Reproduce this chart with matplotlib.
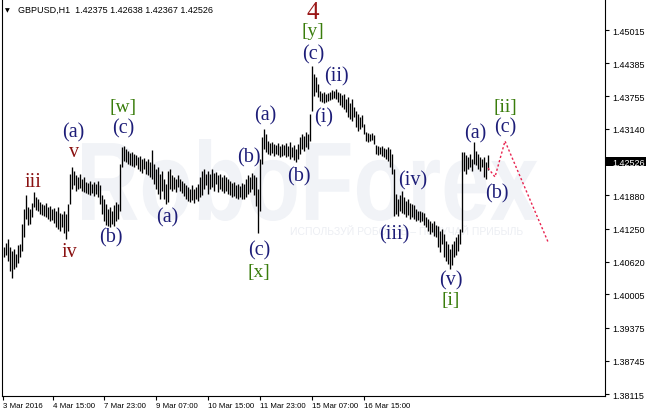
import numpy as np
import matplotlib
matplotlib.use("Agg")
import matplotlib.pyplot as plt
from matplotlib.textpath import TextPath
from matplotlib.patches import PathPatch, Rectangle
from matplotlib.font_manager import FontProperties
from matplotlib.transforms import Affine2D

# ---------------- data ----------------
symbol = "GBPUSD,H1"
last_ohlc = [1.42375, 1.42638, 1.42367, 1.42526]

highs = [
    1.4090, 1.4098, 1.4105, 1.4090, 1.4082, 1.4086, 1.4077, 1.4094, 1.4096, 1.4134,
    1.4162, 1.4189, 1.4166, 1.4162, 1.4174, 1.4194, 1.4185, 1.4181, 1.4175, 1.4172,
    1.4170, 1.4174, 1.4166, 1.4168, 1.4162, 1.4164, 1.4158, 1.4166, 1.4155, 1.4153,
    1.4158, 1.4153, 1.4172, 1.4229, 1.4242, 1.4234, 1.4227, 1.4223, 1.4229, 1.4219,
    1.4223, 1.4213, 1.4211, 1.4215, 1.4210, 1.4213, 1.4210, 1.4215, 1.4208, 1.4189,
    1.4181, 1.4172, 1.4162, 1.4166, 1.4158, 1.4170, 1.4175, 1.4172, 1.4247, 1.4280,
    1.4282, 1.4276, 1.4272, 1.4268, 1.4270, 1.4266, 1.4265, 1.4261, 1.4263, 1.4257,
    1.4259, 1.4253, 1.4257, 1.4251, 1.4274, 1.4247, 1.4238, 1.4242, 1.4229, 1.4234,
    1.4219, 1.4210, 1.4234, 1.4238, 1.4227, 1.4223, 1.4219, 1.4227, 1.4219, 1.4215,
    1.4211, 1.4208, 1.4204, 1.4200, 1.4208, 1.4200, 1.4204, 1.4210, 1.4223, 1.4234,
    1.4238, 1.4229, 1.4234, 1.4229, 1.4238, 1.4230, 1.4232, 1.4227, 1.4229, 1.4223,
    1.4227, 1.4223, 1.4219, 1.4215, 1.4211, 1.4213, 1.4208, 1.4210, 1.4206, 1.4211,
    1.4210, 1.4219, 1.4227, 1.4223, 1.4230, 1.4227, 1.4223, 1.4200, 1.4257, 1.4299,
    1.4314, 1.4304, 1.4291, 1.4287, 1.4289, 1.4285, 1.4284, 1.4287, 1.4282, 1.4285,
    1.4284, 1.4287, 1.4282, 1.4289, 1.4280, 1.4284, 1.4276, 1.4285, 1.4299, 1.4304,
    1.4300, 1.4308, 1.4304, 1.4342, 1.4433, 1.4418, 1.4412, 1.4399, 1.4386, 1.4382,
    1.4384, 1.4380, 1.4382, 1.4384, 1.4388, 1.4386, 1.4390, 1.4384, 1.4382, 1.4378,
    1.4380, 1.4371, 1.4375, 1.4363, 1.4371, 1.4356, 1.4348, 1.4342, 1.4337, 1.4340,
    1.4323, 1.4308, 1.4306, 1.4304, 1.4306, 1.4302, 1.4284, 1.4282, 1.4280, 1.4282,
    1.4278, 1.4276, 1.4280, 1.4276, 1.4266, 1.4238, 1.4191, 1.4181, 1.4189, 1.4196,
    1.4185, 1.4177, 1.4181, 1.4174, 1.4172, 1.4170, 1.4162, 1.4158, 1.4158, 1.4156,
    1.4155, 1.4147, 1.4143, 1.4139, 1.4136, 1.4139, 1.4132, 1.4130, 1.4120, 1.4124,
    1.4115, 1.4102, 1.4096, 1.4086, 1.4096, 1.4102, 1.4109, 1.4115, 1.4124, 1.4270,
    1.4270, 1.4265, 1.4261, 1.4266, 1.4257, 1.4289, 1.4272, 1.4266, 1.4261, 1.4257,
    1.4261, 1.4251, 1.42638,
]
lows = [
    1.4071, 1.4075, 1.4064, 1.4045, 1.4031, 1.4048, 1.4052, 1.4060, 1.4071, 1.4082,
    1.4109, 1.4143, 1.4132, 1.4134, 1.4147, 1.4166, 1.4160, 1.4158, 1.4153, 1.4151,
    1.4149, 1.4147, 1.4143, 1.4139, 1.4141, 1.4136, 1.4128, 1.4124, 1.4120, 1.4128,
    1.4117, 1.4105, 1.4120, 1.4172, 1.4200, 1.4208, 1.4196, 1.4200, 1.4202, 1.4196,
    1.4194, 1.4193, 1.4191, 1.4189, 1.4193, 1.4187, 1.4191, 1.4185, 1.4172, 1.4153,
    1.4139, 1.4132, 1.4130, 1.4128, 1.4134, 1.4130, 1.4139, 1.4143, 1.4158, 1.4242,
    1.4253, 1.4251, 1.4247, 1.4246, 1.4244, 1.4242, 1.4246, 1.4238, 1.4234, 1.4230,
    1.4238, 1.4229, 1.4227, 1.4223, 1.4219, 1.4210, 1.4200, 1.4191, 1.4181, 1.4196,
    1.4181, 1.4172, 1.4175, 1.4200, 1.4196, 1.4200, 1.4194, 1.4204, 1.4196, 1.4193,
    1.4187, 1.4181, 1.4177, 1.4175, 1.4179, 1.4174, 1.4181, 1.4177, 1.4185, 1.4189,
    1.4200, 1.4208, 1.4191, 1.4200, 1.4204, 1.4196, 1.4210, 1.4194, 1.4200, 1.4196,
    1.4193, 1.4196, 1.4191, 1.4189, 1.4185, 1.4187, 1.4183, 1.4181, 1.4185, 1.4181,
    1.4181, 1.4185, 1.4191, 1.4194, 1.4200, 1.4189, 1.4168, 1.4117, 1.4158, 1.4247,
    1.4276, 1.4270, 1.4266, 1.4265, 1.4268, 1.4263, 1.4266, 1.4265, 1.4261, 1.4263,
    1.4265, 1.4261, 1.4263, 1.4257, 1.4261, 1.4255, 1.4251, 1.4257, 1.4266, 1.4276,
    1.4272, 1.4280, 1.4276, 1.4291, 1.4348, 1.4376, 1.4384, 1.4375, 1.4367, 1.4365,
    1.4363, 1.4365, 1.4367, 1.4369, 1.4371, 1.4373, 1.4371, 1.4365, 1.4359, 1.4356,
    1.4352, 1.4346, 1.4337, 1.4333, 1.4329, 1.4337, 1.4318, 1.4310, 1.4314, 1.4318,
    1.4304, 1.4291, 1.4289, 1.4291, 1.4293, 1.4285, 1.4266, 1.4265, 1.4266, 1.4263,
    1.4261, 1.4257, 1.4253, 1.4242, 1.4229, 1.4149, 1.4153, 1.4149, 1.4158, 1.4155,
    1.4153, 1.4147, 1.4151, 1.4143, 1.4147, 1.4143, 1.4139, 1.4141, 1.4138, 1.4139,
    1.4132, 1.4128, 1.4120, 1.4115, 1.4119, 1.4111, 1.4109, 1.4090, 1.4081, 1.4096,
    1.4071, 1.4064, 1.4058, 1.4048, 1.4056, 1.4071, 1.4075, 1.4082, 1.4096, 1.4119,
    1.4234, 1.4229, 1.4238, 1.4242, 1.4234, 1.4247, 1.4246, 1.4238, 1.4234, 1.4242,
    1.4223, 1.4219, 1.42367,
]

price_ticks = [1.45015, 1.44385, 1.43755, 1.43140, 1.42526, 1.41880,
               1.41250, 1.40620, 1.40005, 1.39375, 1.38745, 1.38115]
time_labels = ["3 Mar 2016", "4 Mar 15:00", "7 Mar 23:00", "9 Mar 07:00",
               "10 Mar 15:00", "11 Mar 23:00", "15 Mar 07:00", "16 Mar 15:00"]
time_label_bars = [-0.5, 24.35, 50.15, 76.0, 102.15, 128.15, 154.0, 180.0]

forecast_bars = [242, 245.5, 250.5, 272]
forecast_prices = [1.4240, 1.4223, 1.4291, 1.4100]

# (text, bar position, price, degree)
wave_labels = [
    ("iii", 14.5, 1.4215, "minor"), ("v", 35.0, 1.4272, "minor"),
    ("iv", 32.5, 1.4082, "minor"),
    ("(a)", 34.5, 1.4308, "minute"), ("(b)", 53.5, 1.4109, "minute"),
    ("(c)", 59.5, 1.4316, "minute"), ("[w]", 59.5, 1.4357, "minuette"),
    ("(a)", 81.5, 1.4147, "minute"), ("(b)", 122.5, 1.4261, "minute"),
    ("(c)", 127.5, 1.4084, "minute"), ("[x]", 127.5, 1.4043, "minuette"),
    ("(a)", 130.5, 1.4340, "minute"), ("(b)", 147.5, 1.4225, "minute"),
    ("(i)", 160.0, 1.4337, "minute"), ("(ii)", 166.0, 1.4414, "minute"),
    ("(c)", 154.5, 1.4457, "minute"), ("[y]", 154.5, 1.4501, "minuette"),
    ("4", 154.5, 1.4535, "major"),
    ("(iv)", 204.5, 1.4217, "minute"), ("(iii)", 195.0, 1.4115, "minute"),
    ("(v)", 223.5, 1.4027, "minute"), ("[i]", 223.5, 1.3990, "minuette"),
    ("(a)", 235.5, 1.4306, "minute"), ("(b)", 246.5, 1.4192, "minute"),
    ("(c)", 250.5, 1.4318, "minute"), ("[ii]", 250.5, 1.4357, "minuette"),
]

# ---------------- figure ----------------
W, H = 646, 414
fig = plt.figure(figsize=(W / 100, H / 100), dpi=100)
fig.patch.set_facecolor("white")

# background layer for the watermark (pixel coordinates)
bg = fig.add_axes([0, 0, 1, 1], zorder=0)
bg.set_xlim(0, W)
bg.set_ylim(H, 0)
bg.axis("off")

fp_wm = FontProperties(family="Liberation Sans", weight="bold")
tp = TextPath((0, 0), "RoboForex", size=100, prop=fp_wm)
ext = tp.get_extents()
x0, x1, ytop, ybase = 82, 538, 140, 222
tr = (Affine2D().translate(-ext.x0, -ext.y0)
      .scale((x1 - x0) / ext.width, -(ybase - ytop) / ext.height)
      .translate(x0, ybase))
bg.add_patch(PathPatch(tr.transform_path(tp), facecolor="#f1f3f7",
                       edgecolor="none", transform=bg.transData))
bg.text(290, 232, "ИСПОЛЬЗУЙ РОБОТОВ – ПОЛУЧАЙ ПРИБЫЛЬ", fontsize=7.5,
        family="Liberation Sans", color="#eceef3", va="center", ha="left")

# current price box
bg.add_patch(Rectangle((605, 157.5), 41, 9.5, facecolor="black",
                       edgecolor="none"))

# main chart axes (top edge at the image border)
ax = fig.add_axes([2 / W, 17 / H, 603 / W, 397 / H], zorder=1)
ax.set_facecolor("none")
ax.set_xlim(-1, 300.5)
ax.set_ylim(1.38078, 1.45603)

idx = np.arange(len(highs))
ax.vlines(idx, lows, highs, color="black", linewidth=0.95)

ax.plot(forecast_bars, forecast_prices, color="#e8234f", linewidth=1.0,
        linestyle=(0, (1.6, 1.6)))

colors = {"minor": "#8a1111", "minute": "#1d1d78", "minuette": "#3a7d0c",
          "major": "#9a1616"}
sizes = {"minor": 14.5, "minute": 14.5, "minuette": 14.0, "major": 18}
for txt, b, p, kind in wave_labels:
    ax.text(b, p, txt, color=colors[kind], fontsize=sizes[kind],
            family="Liberation Serif", ha="center", va="center")

for s in ax.spines.values():
    s.set_color("black")
    s.set_linewidth(0.8)
ax.spines["top"].set_visible(False)

ax.yaxis.tick_right()
ax.set_yticks(price_ticks)
ax.set_yticklabels([f"{v:.5f}" for v in price_ticks])
ax.tick_params(axis="y", direction="out", length=3, width=0.8, pad=2,
               labelsize=6.5, colors="black")
for lab in ax.get_yticklabels():
    lab.set_family("Liberation Sans")
    if lab.get_text() == f"{last_ohlc[3]:.5f}":
        lab.set_color("white")

ax.set_xticks(time_label_bars)
ax.set_xticklabels(time_labels)
ax.tick_params(axis="x", direction="out", length=3, width=0.8, pad=1,
               labelsize=5.7)
for lab in ax.get_xticklabels():
    lab.set_family("Liberation Sans")
    lab.set_horizontalalignment("left")

# header
fig.text(5 / W, 1 - 10.5 / H, "▼", fontsize=4.5, family="DejaVu Sans",
         va="center", ha="left")
fig.text(18 / W, 1 - 10 / H,
         f"{symbol}  " + " ".join(f"{v:.5f}" for v in last_ohlc),
         fontsize=6.5, family="Liberation Sans", va="center", ha="left")

fig.savefig("out.png", dpi=100)
